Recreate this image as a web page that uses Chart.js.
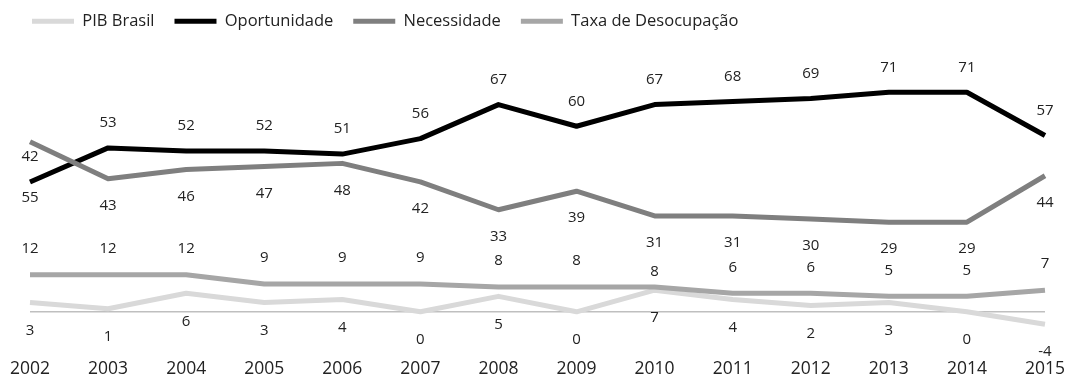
<!DOCTYPE html>
<html>
<head>
<meta charset="utf-8">
<script src="https://cdn.jsdelivr.net/npm/chart.js@4/dist/chart.umd.min.js"></script>
<style>
  html, body { margin: 0; padding: 0; background: #fff; }
  #wrap { width: 1069px; height: 375px; }
</style>
</head>
<body>
<div id="wrap"><canvas id="c" width="1069" height="375"></canvas></div>
<script>
const years = ['2002','2003','2004','2005','2006','2007','2008','2009','2010','2011','2012','2013','2014','2015'];
const seriesNames = ['PIB Brasil', 'Oportunidade', 'Necessidade', 'Taxa de Desocupação'];
const pibBrasil = [3, 1, 6, 3, 4, 0, 5, 0, 7, 4, 2, 3, 0, -4];
const oportunidade = [42, 53, 52, 52, 51, 56, 67, 60, 67, 68, 69, 71, 71, 57];
const necessidade = [55, 43, 46, 47, 48, 42, 33, 39, 31, 31, 30, 29, 29, 44];
const taxaDesocupacao = [12, 12, 12, 9, 9, 9, 8, 8, 8, 6, 6, 5, 5, 7];

// styling
const colors = ['#d9d9d9', '#000000', '#7f7f7f', '#a6a6a6'];
const labelOffsets = [28, -25, 27, -26];           // per dataset, px from the point
const labelOffsetOverrides = { 2: { 0: 56 }, 3: { 8: -15 } };
const FONT = '"Open Sans", "Noto Sans", sans-serif';

const valueLabels = {
  id: 'valueLabels',
  afterDatasetsDraw(chart) {
    const ctx = chart.ctx;
    ctx.save();
    ctx.font = '15px ' + FONT;
    ctx.fillStyle = '#222';
    ctx.textAlign = 'center';
    ctx.textBaseline = 'middle';
    chart.data.datasets.forEach((ds, di) => {
      const meta = chart.getDatasetMeta(di);
      meta.data.forEach((pt, i) => {
        let off = labelOffsets[di];
        if (labelOffsetOverrides[di] && labelOffsetOverrides[di][i] !== undefined) off = labelOffsetOverrides[di][i];
        ctx.fillText(String(ds.data[i]), pt.x, pt.y + off);
      });
    });
    ctx.restore();
  }
};

const dataSeries = [pibBrasil, oportunidade, necessidade, taxaDesocupacao];
const drawOrder = [4, 3, 2, 1];

new Chart(document.getElementById('c'), {
  type: 'line',
  data: {
    labels: years,
    datasets: dataSeries.map((d, i) => ({
      label: seriesNames[i],
      data: d,
      borderColor: colors[i],
      backgroundColor: colors[i],
      borderWidth: 5,
      pointRadius: 0,
      tension: 0,
      borderJoinStyle: 'round',
      order: drawOrder[i]
    }))
  },
  options: {
    responsive: false,
    animation: false,
    events: [],
    layout: { padding: { left: 12, right: 24, top: -7, bottom: -9 } },
    plugins: {
      tooltip: { enabled: false },
      legend: {
        position: 'top',
        align: 'start',
        labels: {
          boxWidth: 42,
          boxHeight: 5,
          padding: 20,
          color: '#222',
          font: { family: FONT, size: 16.5 },
          sort: (a, b) => a.datasetIndex - b.datasetIndex,
          generateLabels: (chart) => Chart.defaults.plugins.legend.labels.generateLabels(chart)
            .map(l => Object.assign(l, { lineWidth: 0, fillStyle: l.strokeStyle }))
        }
      }
    },
    scales: {
      x: {
        grid: { display: false, drawTicks: false },
        border: { display: false },
        ticks: { padding: 4, color: '#222', font: { family: FONT, size: 17.5 }, maxRotation: 0, autoSkip: false }
      },
      y: {
        min: -13.97,
        max: 88.06,
        afterFit: (s) => { s.width = 18; },
        border: { display: false },
        ticks: { display: false, stepSize: 5 },
        grid: {
          drawTicks: false,
          lineWidth: 1.5,
          color: (c) => (c.tick && c.tick.value === 0) ? '#bfbfbf' : 'rgba(0,0,0,0)'
        }
      }
    }
  },
  plugins: [valueLabels]
});
</script>
</body>
</html>
